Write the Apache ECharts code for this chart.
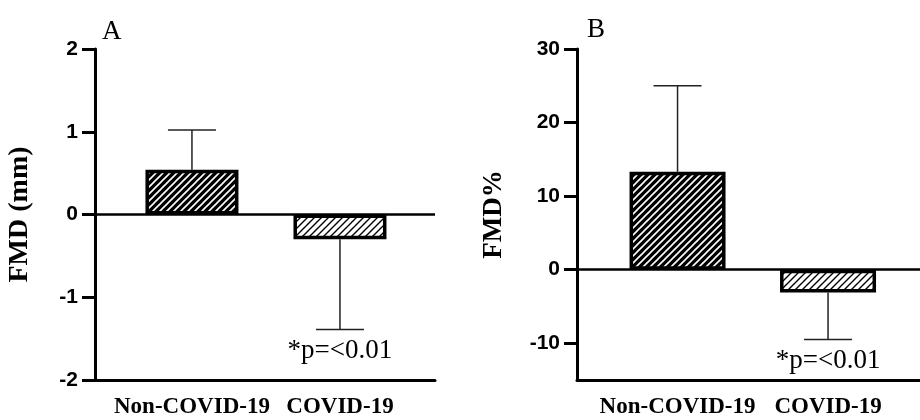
<!DOCTYPE html>
<html>
<head>
<meta charset="utf-8">
<script src="https://cdn.jsdelivr.net/npm/echarts@6/dist/echarts.min.js"></script>
<style>
  html, body { margin: 0; padding: 0; background: #fff; }
  #myChart { width: 920px; height: 420px; }
</style>
</head>
<body>
<div id="myChart"></div>
<script>
// data
var categories = ['Non-COVID-19', 'COVID-19'];
var catPos = [0, 1];
var fmdMm = [0.54, -0.3];
var fmdMmSd = [0.48, 1.09];
var fmdPct = [13.3, -3.1];
var fmdPctSd = [11.7, 6.4];
var mmTicks = [-2, -1, 0, 1, 2];
var pctTicks = [-10, 0, 10, 20, 30];
var pNotes = ['', '*p=<0.01'];

function hatch(bg, fg, lw) {
    var c = document.createElement('canvas');
    var s = 7;
    c.width = s; c.height = s;
    var g = c.getContext('2d');
    g.fillStyle = bg;
    g.fillRect(0, 0, s, s);
    g.strokeStyle = fg;
    g.lineWidth = lw;
    g.beginPath();
    g.moveTo(0, s); g.lineTo(s, 0);
    g.moveTo(-s / 2, s / 2); g.lineTo(s / 2, -s / 2);
    g.moveTo(s / 2, s * 1.5); g.lineTo(s * 1.5, s / 2);
    g.stroke();
    return { image: c, repeat: 'repeat' };
}
var fills = [hatch('#000', '#fff', 1.6), hatch('#fff', '#000', 1.4)];

var serif = '"Liberation Serif", "Times New Roman", serif';
var sans = '"Liberation Sans", Arial, sans-serif';

function barData(vals) {
    return vals.map(function (v, i) {
        return { value: [catPos[i], v], itemStyle: { color: fills[i] } };
    });
}
function errData(vals, sds) {
    return vals.map(function (v, i) { return [catPos[i], v, sds[i]]; });
}

function renderErr(params, api) {
    var x = api.value(0), m = api.value(1), e = api.value(2);
    var end = m >= 0 ? m + e : m - e;
    var p0 = api.coord([x, m]);
    var p1 = api.coord([x, end]);
    var half = 24;
    var kids = [
        { type: 'line', shape: { x1: p0[0], y1: p0[1], x2: p1[0], y2: p1[1] },
          style: { stroke: '#222', lineWidth: 1.5 } },
        { type: 'line', shape: { x1: p1[0] - half, y1: p1[1], x2: p1[0] + half, y2: p1[1] },
          style: { stroke: '#222', lineWidth: 1.5 } }
    ];
    var note = pNotes[params.dataIndex];
    if (note) {
        kids.push({ type: 'text', x: p1[0], y: p1[1] + 21,
            style: { text: note, fill: '#000', font: '27px ' + serif,
                     align: 'center', verticalAlign: 'middle' } });
    }
    return { type: 'group', children: kids };
}

function xAx(idx, min, max) {
    return {
        gridIndex: idx, type: 'value', min: min, max: max,
        axisLine: { onZero: false, lineStyle: { color: '#000', width: 3 } },
        axisTick: { show: false },
        splitLine: { show: false },
        axisLabel: {
            customValues: catPos,
            formatter: function (v) { return categories[Math.round(v)]; },
            color: '#000', fontFamily: serif, fontWeight: 'bold', fontSize: 23, margin: 16
        }
    };
}
function yAx(idx, min, max, ticks, name, gap, nameSize) {
    return {
        gridIndex: idx, type: 'value', min: min, max: max,
        name: name, nameLocation: 'middle', nameGap: gap,
        nameTextStyle: { color: '#000', fontFamily: serif, fontWeight: 'bold', fontSize: nameSize },
        axisLine: { show: true, onZero: false, lineStyle: { color: '#000', width: 3 } },
        axisTick: { show: true, length: 13, customValues: ticks, lineStyle: { color: '#000', width: 3 } },
        splitLine: { show: false },
        axisLabel: { customValues: ticks, color: '#000', fontFamily: sans, fontWeight: 'bold',
                     fontSize: 21, margin: 17 }
    };
}
var zeroLine = {
    symbol: 'none', silent: true, label: { show: false },
    lineStyle: { color: '#000', width: 2.5, type: 'solid' },
    data: [{ yAxis: 0 }]
};

var myChart = echarts.init(document.getElementById('myChart'));
var option = {
    animation: false,
    backgroundColor: '#fff',
    title: [
        { text: 'A', left: 102, top: 18, padding: 0,
          textStyle: { fontFamily: serif, fontWeight: 'normal', fontSize: 27, color: '#000' } },
        { text: 'B', left: 587, top: 16, padding: 0,
          textStyle: { fontFamily: serif, fontWeight: 'normal', fontSize: 27, color: '#000' } }
    ],
    grid: [
        { left: 95, right: 485, top: 49, bottom: 40 },
        { left: 577, right: 0, top: 49, bottom: 40 }
    ],
    xAxis: [xAx(0, -0.655, 1.642), xAx(1, -0.668, 1.611)],
    yAxis: [
        yAx(0, -2, 2, mmTicks, 'FMD (mm)', 61, 28),
        yAx(1, -15, 30, pctTicks, 'FMD%', 69, 27)
    ],
    series: [
        { type: 'bar', xAxisIndex: 0, yAxisIndex: 0, barWidth: 93,
          itemStyle: { borderColor: '#000', borderWidth: 3.5 },
          data: barData(fmdMm), markLine: zeroLine },
        { type: 'custom', xAxisIndex: 0, yAxisIndex: 0, renderItem: renderErr,
          data: errData(fmdMm, fmdMmSd), z: 3 },
        { type: 'bar', xAxisIndex: 1, yAxisIndex: 1, barWidth: 96,
          itemStyle: { borderColor: '#000', borderWidth: 3.5 },
          data: barData(fmdPct), markLine: zeroLine },
        { type: 'custom', xAxisIndex: 1, yAxisIndex: 1, renderItem: renderErr,
          data: errData(fmdPct, fmdPctSd), z: 3 }
    ]
};
myChart.setOption(option);

window.onresize = function () {
    myChart.resize();
};
</script>
</body>
</html>
